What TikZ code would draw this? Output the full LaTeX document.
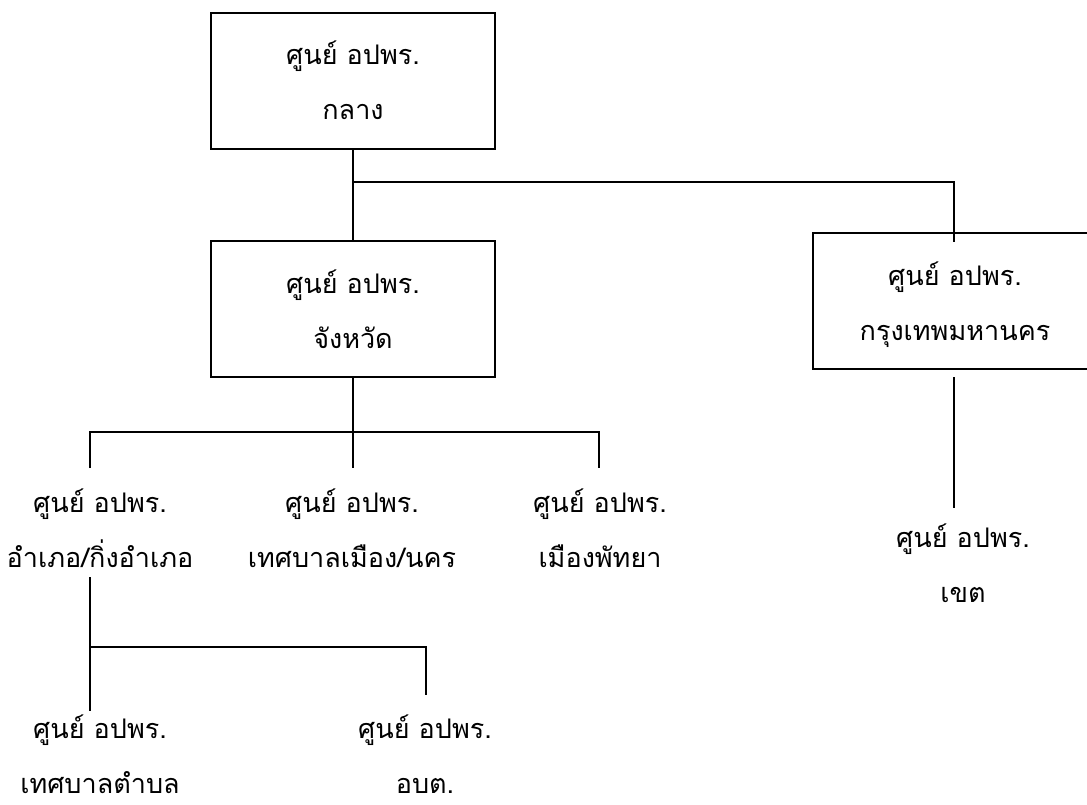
\documentclass[tikz,border=0pt]{standalone}
\usepackage{fontspec}
\newfontfamily\thaifont[Script=Thai]{Loma}
\usetikzlibrary{calc}
\begin{document}
\begin{tikzpicture}[x=1pt,y=-1pt,
  org/.style={font=\thaifont\fontsize{27}{55}\selectfont, align=center},
  unitbox/.style={org, draw, line width=1.8pt, minimum width=284pt,
    minimum height=136pt, inner sep=0pt, text height=107pt, text depth=29pt},
  unit/.style={org, inner sep=0pt, anchor=base},
  link/.style={line width=1.6pt}]
\useasboundingbox (0,0) rectangle (1087,805);
\clip (0,0) rectangle (1087,805);

% boxed centres
\node[unitbox] (central) at (353,81) {ศูนย์ อปพร.\\กลาง};
\node[unitbox] (province) at (353,309) {ศูนย์ อปพร.\\จังหวัด};
\node[unitbox] (bangkok) at (955,301) {ศูนย์ อปพร.\\กรุงเทพมหานคร};

% unboxed centres (anchored at the baseline of their last line)
\node[unit] (district) at (100,567) {ศูนย์ อปพร.\\อำเภอ/กิ่งอำเภอ};
\node[unit] (city) at (352,567) {ศูนย์ อปพร.\\เทศบาลเมือง/นคร};
\node[unit] (pattaya) at (600,567) {ศูนย์ อปพร.\\เมืองพัทยา};
\node[unit] (zone) at (963,602) {ศูนย์ อปพร.\\เขต};
\node[unit] (tambon) at (100,793) {ศูนย์ อปพร.\\เทศบาลตำบล};
\node[unit] (sao) at (425,793) {ศูนย์ อปพร.\\อบต.};

% junctions and free line ends
\coordinate (j-top) at (353,182);
\coordinate (bkk-in) at (954,242);
\coordinate (j-right) at (599,432);
\coordinate (district-in) at (90,468);
\coordinate (city-in) at (353,468);
\coordinate (pattaya-in) at (599,468);
\coordinate (bkk-out) at (954,377);
\coordinate (zone-in) at (954,508);
\coordinate (district-out) at (90,577);
\coordinate (j-dist) at (90,647);
\coordinate (tambon-in) at (90,711);
\coordinate (sao-in) at (426,695);

% connectors
\draw[link] (central.south) -- (province.north);
\draw[link] (j-top) -| (bkk-in);
\draw[link] (province.south) -- (city-in);
\draw[link] (district-in) |- (j-right) -- (pattaya-in);
\draw[link] (bkk-out) -- (zone-in);
\draw[link] (district-out) -- (tambon-in);
\draw[link] (j-dist) -| (sao-in);
\end{tikzpicture}
\end{document}
